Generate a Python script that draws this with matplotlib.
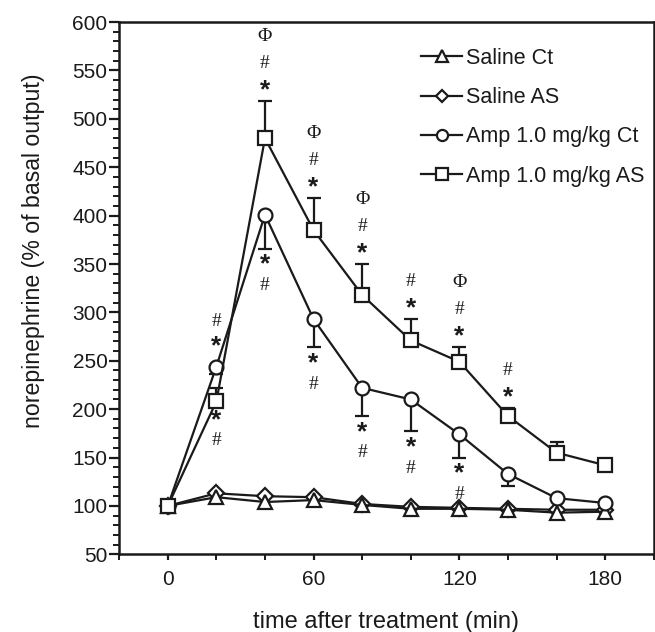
import matplotlib
matplotlib.use("Agg")
import matplotlib.pyplot as plt
from matplotlib.ticker import MultipleLocator

plt.rcParams["font.family"] = ["Liberation Sans", "DejaVu Sans"]

# ---- data ----
time = [0, 20, 40, 60, 80, 100, 120, 140, 160, 180]
saline_ct = [100, 109, 104, 106, 101, 97, 97, 96, 93, 94]
saline_as = [100, 113, 110, 109, 102, 99, 98, 97, 96, 96]
amp_ct = [100, 244, 401, 293, 222, 210, 174, 133, 108, 103]
amp_ct_err = [0, 8, 35, 29, 29, 33, 24, 12, 0, 0]          # drawn downward
amp_as = [100, 208, 480, 385, 318, 271, 249, 193, 155, 142]
amp_as_err = [0, 14, 38, 33, 32, 22, 15, 8, 11, 4]         # drawn upward

# significance marks next to each point
as_above = {40: "*#Φ", 60: "*#Φ", 80: "*#Φ", 100: "*#", 120: "*#Φ", 140: "*#"}
as_below = {20: "*#"}
ct_above = {20: "*#"}
ct_below = {40: "*#", 60: "*#", 80: "*#", 100: "*#", 120: "*#"}

fig, ax = plt.subplots(figsize=(6.55, 6.32), dpi=100)
fig.subplots_adjust(left=0.182, right=0.998, bottom=0.123, top=0.965)

INK = "#1a1a1a"
mk = dict(color=INK, lw=1.6, mfc="white", mec=INK, mew=1.6, ms=10)
ax.plot(time, saline_as, marker="D", label="Saline AS", zorder=3, **{**mk, "ms": 8})
ax.plot(time, saline_ct, marker="^", label="Saline Ct", zorder=4, **mk)
ax.errorbar(time, amp_ct, yerr=[amp_ct_err, [0] * len(time)], fmt="none",
            ecolor=INK, elinewidth=1.6, capsize=5, capthick=1.6, zorder=2)
ax.plot(time, amp_ct, marker="o", label="Amp 1.0 mg/kg Ct", zorder=5, **mk)
ax.errorbar(time, amp_as, yerr=[[0] * len(time), amp_as_err], fmt="none",
            ecolor=INK, elinewidth=1.6, capsize=5, capthick=1.6, zorder=2)
ax.plot(time, amp_as, marker="s", label="Amp 1.0 mg/kg AS", zorder=6, **mk)


def put_marks(x, y, symbols, offsets):
    # offsets in pixels, positive = up; glyphs sit ~2 px above box centre
    for s, off in zip(symbols, offsets):
        if s == "*":
            kw = dict(fontsize=19, fontweight="bold", family=["Liberation Sans"])
        else:
            kw = dict(fontsize=14, family=["Liberation Serif", "DejaVu Serif"])
        ax.annotate(s, (x, y), xytext=(0, off - 2), textcoords="offset pixels",
                    ha="center", va="center", color=INK, **kw)


for t, s in as_above.items():
    i = time.index(t)
    put_marks(t, amp_as[i] + amp_as_err[i], s, [13, 40, 67])
for t, s in as_below.items():
    i = time.index(t)
    put_marks(t, amp_as[i], s, [-17, -37])
for t, s in ct_above.items():
    i = time.index(t)
    put_marks(t, amp_ct[i], s, [22, 47])
for t, s in ct_below.items():
    i = time.index(t)
    put_marks(t, amp_ct[i] - amp_ct_err[i], s, [-14, -35])

ax.set_xlim(-20, 200)
ax.set_ylim(50, 600)
ax.xaxis.set_major_locator(MultipleLocator(60))
ax.xaxis.set_minor_locator(MultipleLocator(20))
ax.yaxis.set_major_locator(MultipleLocator(50))
ax.yaxis.set_minor_locator(MultipleLocator(10))
ax.tick_params(axis="both", which="major", labelsize=15, width=1.6,
               direction="out", color=INK, labelcolor=INK)
ax.tick_params(axis="y", which="major", length=7, pad=1.5)
ax.tick_params(axis="x", which="major", length=4.5, pad=7)
ax.tick_params(axis="both", which="minor", width=1.4, length=4.5, direction="out",
               color=INK)
ax.tick_params(axis="x", which="minor", length=4)
for sp in ax.spines.values():
    sp.set_linewidth(1.8)
    sp.set_color(INK)

ax.set_xlabel("time after treatment (min)", fontsize=17, color=INK, va="center")
ax.xaxis.set_label_coords(0.5, -0.127)
ax.set_ylabel("norepinephrine (% of basal output)", fontsize=16.7, color=INK,
              va="center")
ax.yaxis.set_label_coords(-0.161, 0.57)

handles, labels = ax.get_legend_handles_labels()
order = ["Saline Ct", "Saline AS", "Amp 1.0 mg/kg Ct", "Amp 1.0 mg/kg AS"]
hl = [handles[labels.index(o)] for o in order]
leg = ax.legend(hl, order, loc="upper left", bbox_to_anchor=(0.545, 0.972),
                frameon=False, fontsize=15.5, handlelength=1.9, handletextpad=0.2,
                labelspacing=0.85, borderpad=0, markerscale=0.8)
for t in leg.get_texts():
    t.set_color(INK)

fig.savefig("out.png", dpi=100)
